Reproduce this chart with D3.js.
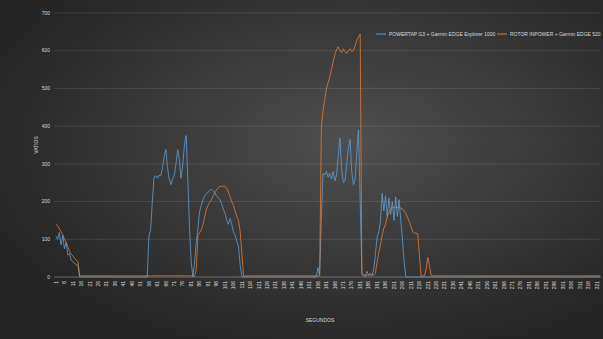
<!DOCTYPE html>
<html>
<head>
<meta charset="utf-8">
<script src="https://cdn.jsdelivr.net/npm/d3@7"></script>
<style>
  html, body { margin: 0; padding: 0; background: #333; }
  svg { display: block; font-family: 'Liberation Sans', 'DejaVu Sans', sans-serif; }
</style>
</head>
<body>
<svg width="603" height="339"></svg>
<script>
const w = 603;
const h = 339;

// seconds 1..323
const seconds = d3.range(1, 324);
const tickSeconds = seconds.filter(s => (s - 1) % 5 === 0);
const yTicks = [0, 100, 200, 300, 400, 500, 600, 700];

const seriesNames = ['POWERTAP G3 + Garmin EDGE Explorer 1000', 'ROTOR INPOWER + Garmin EDGE 520'];
const seriesColors = ['#609dd3', '#e47a33'];

// watts, one value per second
const powertap = [
  108,100,118,85,110,75,92,58,62,45,40,36,33,30,0,0,0,0,0,0,
  0,0,0,0,0,0,0,0,0,0,0,0,0,0,0,0,0,0,0,0,
  0,0,0,0,0,0,0,0,0,0,0,0,0,0,0,110,125,200,265,268,
  262,270,268,290,320,338,290,260,245,260,270,300,338,310,262,300,350,375,260,130,
  40,0,40,90,130,175,190,205,215,220,225,230,232,228,222,215,210,205,195,180,
  170,150,140,155,140,120,110,95,80,30,0,0,0,0,0,0,0,0,0,0,
  0,0,0,0,0,0,0,0,0,0,0,0,0,0,0,0,0,0,0,0,
  0,0,0,0,0,0,0,0,0,0,0,0,0,0,0,25,5,150,275,270,
  280,265,275,260,280,255,270,320,368,290,250,255,300,340,365,280,245,260,330,390,
  200,10,5,0,15,5,10,5,20,60,105,120,150,222,175,215,160,210,165,200,
  150,212,160,205,150,100,40,0,0,0,0,0,0,0,0,0,0,0,0,0,
  0,0,0,0,0,0,0,0,0,0,0,0,0,0,0,0,0,0,0,0,
  0,0,0,0,0,0,0,0,0,0,0,0,0,0,0,0,0,0,0,0,
  0,0,0,0,0,0,0,0,0,0,0,0,0,0,0,0,0,0,0,0,
  0,0,0,0,0,0,0,0,0,0,0,0,0,0,0,0,0,0,0,0,
  0,0,0,0,0,0,0,0,0,0,0,0,0,0,0,0,0,0,0,0,
  0,0,0
];

const rotor = [
  140,135,128,120,112,100,92,80,68,60,56,50,45,40,3,3,3,3,3,3,
  3,3,3,3,3,3,3,3,3,3,3,3,3,3,3,3,3,3,3,3,
  3,3,3,3,3,3,3,3,3,3,3,3,3,3,3,3,3,3,3,3,
  3,3,3,3,3,3,3,3,3,3,3,3,3,3,3,3,3,3,3,3,
  3,3,3,20,110,118,125,140,160,180,190,198,205,215,222,232,237,240,240,241,
  240,236,225,213,200,190,175,160,150,120,60,3,3,3,3,3,3,3,3,3,
  3,3,3,3,3,3,3,3,3,3,3,3,3,3,3,3,3,3,3,3,
  3,3,3,3,3,3,3,3,3,3,3,3,3,3,3,3,3,395,440,470,
  500,515,530,550,570,590,603,610,600,595,605,598,592,600,605,598,602,612,628,636,
  645,5,5,5,5,5,5,5,5,10,40,65,85,110,130,140,160,172,178,183,
  185,185,184,185,183,180,176,168,158,148,135,120,117,116,115,60,3,3,3,20,
  52,30,3,3,3,3,3,3,3,3,3,3,3,3,3,3,3,3,3,3,
  3,3,3,3,3,3,3,3,3,3,3,3,3,3,3,3,3,3,3,3,
  3,3,3,3,3,3,3,3,3,3,3,3,3,3,3,3,3,3,3,3,
  3,3,3,3,3,3,3,3,3,3,3,3,3,3,3,3,3,3,3,3,
  3,3,3,3,3,3,3,3,3,3,3,3,3,3,3,3,3,3,3,3,
  3,3,3
];

const svg = d3.select('svg');

// dark radial background like the excel theme
const defs = svg.append('defs');
const grad = defs.append('radialGradient')
  .attr('id', 'bg')
  .attr('cx', '58%').attr('cy', '42%').attr('r', '62%');
grad.append('stop').attr('offset', '0%').attr('stop-color', '#4f4f4f');
grad.append('stop').attr('offset', '100%').attr('stop-color', '#262626');

svg.append('rect')
  .attr('width', w).attr('height', h)
  .attr('fill', 'url(#bg)');

const x = d3.scalePoint()
  .domain(seconds)
  .range([56, 56 + 322 * 1.69]);

const y = d3.scaleLinear()
  .domain([0, 700])
  .range([277, 13]);

// gridlines
svg.append('g')
  .selectAll('line')
  .data(yTicks)
  .enter()
  .append('line')
  .attr('x1', 54)
  .attr('x2', 601)
  .attr('y1', d => y(d))
  .attr('y2', d => y(d))
  .attr('stroke', 'rgba(255,255,255,0.13)')
  .attr('stroke-width', 0.8);

// y axis labels
svg.append('g')
  .selectAll('text')
  .data(yTicks)
  .enter()
  .append('text')
  .attr('x', 50)
  .attr('y', d => y(d))
  .attr('dy', '0.35em')
  .attr('text-anchor', 'end')
  .attr('font-size', 5)
  .attr('fill', '#d9d9d9')
  .text(d => d);

// x axis line
svg.append('line')
  .attr('x1', 54).attr('x2', 601)
  .attr('y1', y(0)).attr('y2', y(0))
  .attr('stroke', 'rgba(255,255,255,0.25)')
  .attr('stroke-width', 0.8);

// x tick labels, rotated
svg.append('g')
  .selectAll('text')
  .data(tickSeconds)
  .enter()
  .append('text')
  .attr('transform', d => `translate(${x(d) + 1.7},281) rotate(-90)`)
  .attr('text-anchor', 'end')
  .attr('font-size', 5)
  .attr('fill', '#d9d9d9')
  .text(d => d);

// axis titles
svg.append('text')
  .attr('transform', 'translate(38,145) rotate(-90)')
  .attr('text-anchor', 'middle')
  .attr('font-size', 5)
  .attr('fill', '#d9d9d9')
  .text('VATIOS');

svg.append('text')
  .attr('x', 320)
  .attr('y', 322)
  .attr('text-anchor', 'middle')
  .attr('font-size', 5)
  .attr('fill', '#d9d9d9')
  .text('SEGUNDOS');

// lines
const line = d3.line()
  .x((d, i) => x(seconds[i]))
  .y(d => y(d));

[powertap, rotor].forEach((s, k) => {
  svg.append('path')
    .datum(s)
    .attr('fill', 'none')
    .attr('stroke', seriesColors[k])
    .attr('stroke-width', 0.9)
    .attr('stroke-opacity', 0.9)
    .attr('stroke-linejoin', 'round')
    .attr('d', line);
});

// legend
const legendX = [376, 497];
const legend = svg.append('g')
  .selectAll('g')
  .data(seriesNames)
  .enter()
  .append('g')
  .attr('transform', (d, i) => `translate(${legendX[i]},34)`);

legend.append('line')
  .attr('x1', 0).attr('x2', 10)
  .attr('stroke', (d, i) => seriesColors[i])
  .attr('stroke-width', 1);

legend.append('text')
  .attr('x', 13)
  .attr('dy', '0.35em')
  .attr('font-size', 5)
  .attr('fill', '#d9d9d9')
  .text(d => d);
</script>
</body>
</html>
